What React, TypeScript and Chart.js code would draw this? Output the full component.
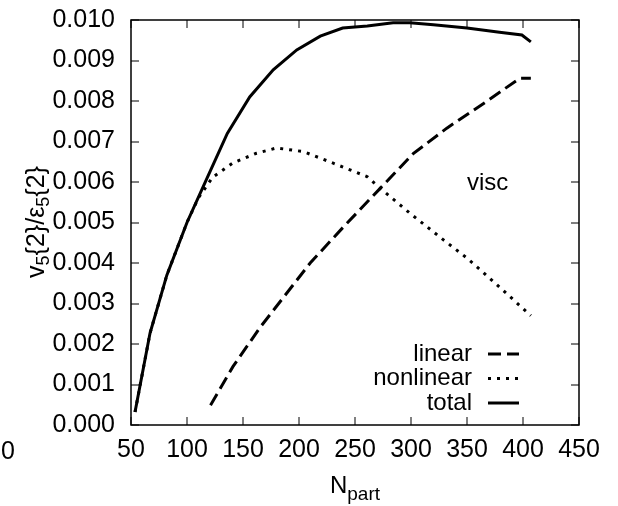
import { useEffect, useRef } from 'react';
import { Chart, registerables } from 'chart.js';

Chart.register(...registerables);

const FONT = '"Liberation Sans", Arial, Helvetica, sans-serif';

// Data (Npart, v5{2}/eps5{2})
const totalNpart = [53.6, 67, 82, 100, 118, 136, 156, 177, 198, 219, 239, 261, 284, 299, 320, 350, 379, 399, 407];
const totalValues = [0.00032, 0.00227, 0.0037, 0.005, 0.0061, 0.0072, 0.0081, 0.00877, 0.00926, 0.0096, 0.0098, 0.00985, 0.00993, 0.00993, 0.00988, 0.0098, 0.0097, 0.00963, 0.00946];

const linearNpart = [121, 141, 165, 210, 240, 271, 302, 332, 368, 397, 407];
const linearValues = [0.00049, 0.00144, 0.0024, 0.004, 0.0049, 0.0058, 0.0067, 0.00733, 0.008, 0.00856, 0.00856];

const nonlinearNpart = [53.6, 67, 82, 100, 110, 123, 141, 162, 180, 204, 230, 261, 271, 299, 329, 350, 362, 382, 407];
const nonlinearValues = [0.00032, 0.00227, 0.0037, 0.005, 0.0056, 0.00612, 0.00647, 0.00671, 0.00684, 0.00675, 0.00647, 0.00613, 0.00588, 0.00523, 0.00457, 0.00412, 0.00383, 0.00333, 0.0027];

const xMin = 50;
const xMax = 450;
const xStep = 50;
const yMin = 0;
const yMax = 0.01;
const yStep = 0.001;

const legendLabels = ['linear', 'nonlinear', 'total'];
const annotationText = 'visc';
const annotationX = 350;
const annotationY = 0.0058;

const DASH_LINEAR = [13, 6];
const DASH_NONLINEAR = [3, 6];

const toPoints = (xs: number[], ys: number[]) => xs.map((x, i) => ({ x, y: ys[i] }));

function drawRich(ctx: CanvasRenderingContext2D, parts: { t: string; sub?: boolean }[], size: number, subSize: number, subShift: number) {
  const widths = parts.map((p) => {
    ctx.font = `${p.sub ? subSize : size}px ${FONT}`;
    return ctx.measureText(p.t).width;
  });
  const total = widths.reduce((a, b) => a + b, 0);
  let x = -total / 2;
  parts.forEach((p, i) => {
    ctx.font = `${p.sub ? subSize : size}px ${FONT}`;
    ctx.fillText(p.t, x, p.sub ? subShift : 0);
    x += widths[i];
  });
}

const decorPlugin = {
  id: 'decor',
  afterDraw(chart: any) {
    const { ctx, chartArea } = chart;
    const xs = chart.scales.x;
    const ys = chart.scales.y;
    const L = chartArea.left;
    const R = chartArea.right;
    const T = chartArea.top;
    const B = chartArea.bottom;
    ctx.save();
    ctx.setLineDash([]);
    ctx.strokeStyle = '#000';
    ctx.fillStyle = '#000';

    // frame
    ctx.lineWidth = 1.5;
    ctx.strokeRect(L, T, R - L, B - T);

    // tick marks (inward, mirrored)
    ctx.lineWidth = 1;
    const TL = 8;
    xs.ticks.forEach((t: any) => {
      const px = Math.round(xs.getPixelForValue(t.value));
      ctx.beginPath();
      ctx.moveTo(px, B);
      ctx.lineTo(px, B - TL);
      ctx.moveTo(px, T);
      ctx.lineTo(px, T + TL);
      ctx.stroke();
    });
    ys.ticks.forEach((t: any) => {
      const py = Math.round(ys.getPixelForValue(t.value));
      ctx.beginPath();
      ctx.moveTo(L, py);
      ctx.lineTo(L + TL, py);
      ctx.moveTo(R, py);
      ctx.lineTo(R - TL, py);
      ctx.stroke();
    });

    // stray "0" label at far left of the x tick row
    ctx.font = `25px ${FONT}`;
    ctx.textAlign = 'center';
    ctx.textBaseline = 'alphabetic';
    ctx.fillText('0', 8, 459);

    // annotation
    ctx.font = `24px ${FONT}`;
    ctx.textAlign = 'left';
    ctx.fillText(annotationText, xs.getPixelForValue(annotationX), ys.getPixelForValue(annotationY));

    // legend
    const rows = [354, 378.5, 403];
    const dashes = [DASH_LINEAR, DASH_NONLINEAR, []];
    ctx.textAlign = 'right';
    ctx.textBaseline = 'middle';
    ctx.lineCap = 'butt';
    legendLabels.forEach((lab, i) => {
      ctx.font = `24px ${FONT}`;
      ctx.fillText(lab, 472, rows[i]);
      ctx.setLineDash(dashes[i]);
      ctx.lineWidth = 3;
      ctx.beginPath();
      ctx.moveTo(488, rows[i]);
      ctx.lineTo(519, rows[i]);
      ctx.stroke();
    });
    ctx.setLineDash([]);

    // y axis title
    ctx.save();
    ctx.translate(43.5, 222);
    ctx.rotate(-Math.PI / 2);
    ctx.textAlign = 'left';
    ctx.textBaseline = 'alphabetic';
    drawRich(
      ctx,
      [{ t: 'v' }, { t: '5', sub: true }, { t: '{2}/ε' }, { t: '5', sub: true }, { t: '{2}' }],
      25,
      18,
      5
    );
    ctx.restore();

    // x axis title
    ctx.save();
    ctx.translate(355, 493);
    ctx.textAlign = 'left';
    ctx.textBaseline = 'alphabetic';
    drawRich(ctx, [{ t: 'N' }, { t: 'part', sub: true }], 24, 19, 7);
    ctx.restore();

    ctx.restore();
  },
};

export default function App() {
  const ref = useRef<HTMLCanvasElement | null>(null);
  useEffect(() => {
    document.body.style.margin = '0';
    const canvas = ref.current;
    if (!canvas) return;
    const chart = new Chart(canvas, {
      type: 'line',
      data: {
        datasets: [
          {
            label: 'total',
            data: toPoints(totalNpart, totalValues),
            borderColor: '#000',
            borderWidth: 3,
            pointRadius: 0,
            tension: 0,
            fill: false,
          },
          {
            label: 'linear',
            data: toPoints(linearNpart, linearValues),
            borderColor: '#000',
            borderWidth: 3,
            borderDash: DASH_LINEAR,
            borderCapStyle: 'butt',
            pointRadius: 0,
            tension: 0,
            fill: false,
          },
          {
            label: 'nonlinear',
            data: toPoints(nonlinearNpart, nonlinearValues),
            borderColor: '#000',
            borderWidth: 3,
            borderDash: DASH_NONLINEAR,
            borderCapStyle: 'butt',
            pointRadius: 0,
            tension: 0,
            fill: false,
          },
        ],
      },
      options: {
        animation: false,
        responsive: false,
        maintainAspectRatio: false,
        devicePixelRatio: 1,
        layout: { padding: { top: 20, right: 39, left: 0, bottom: 0 } },
        plugins: { legend: { display: false }, tooltip: { enabled: false } },
        scales: {
          x: {
            type: 'linear',
            min: xMin,
            max: xMax,
            grid: { display: false, drawTicks: false },
            border: { display: false },
            ticks: {
              stepSize: xStep,
              autoSkip: false,
              maxRotation: 0,
              padding: 10,
              color: '#000',
              font: { family: FONT, size: 25 },
            },
            afterFit: (s: any) => {
              s.height = 81;
              s.paddingLeft = 0;
              s.paddingRight = 0;
            },
          },
          y: {
            type: 'linear',
            min: yMin,
            max: yMax,
            grid: { display: false, drawTicks: false },
            border: { display: false },
            ticks: {
              stepSize: yStep,
              autoSkip: false,
              padding: 16,
              color: '#000',
              font: { family: FONT, size: 25 },
              callback: (v: any) => Number(v).toFixed(3),
            },
            afterFit: (s: any) => {
              s.width = 131;
              s.paddingTop = 0;
              s.paddingBottom = 0;
            },
          },
        },
      },
      plugins: [decorPlugin],
    });
    return () => chart.destroy();
  }, []);
  return (
    <div style={{ position: 'absolute', left: 0, top: 0, width: 618, height: 506, background: '#fff' }}>
      <canvas ref={ref} width={618} height={506} style={{ display: 'block' }} />
    </div>
  );
}
